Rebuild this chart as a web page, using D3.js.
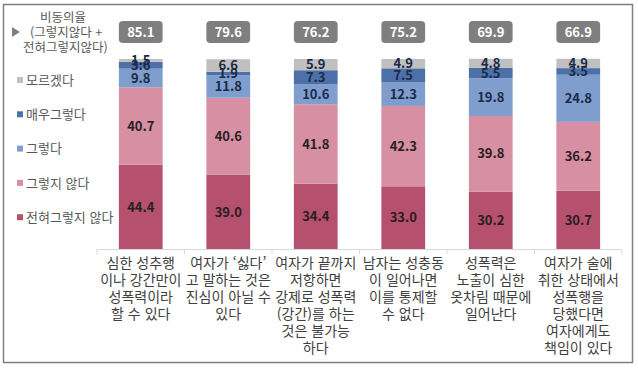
<!DOCTYPE html>
<html lang="ko">
<head>
  <meta charset="utf-8" />
  <title>성폭력 통념 비동의율</title>
  <script src="https://d3js.org/d3.v7.min.js"></script>
  <style>
    body { margin: 0; background: #fff; }
    svg { display: block; font-family: "Noto Sans CJK KR", "Noto Sans", sans-serif; }
  </style>
</head>
<body>
<svg id="chart" width="638" height="368"></svg>
<script>
  // 항목 (줄바꿈 그대로)
  const categories = [
    ["심한 성추행", "이나 강간만이", "성폭력이라", "할 수 있다"],
    ["여자가 ‘싫다’", "고 말하는 것은", "진심이 아닐 수", "있다"],
    ["여자가 끝까지", "저항하면", "강제로 성폭력", "(강간)를 하는", "것은 불가능", "하다"],
    ["남자는 성충동", "이 일어나면", "이를 통제할", "수 없다"],
    ["성폭력은", "노출이 심한", "옷차림 때문에", "일어난다"],
    ["여자가 술에", "취한 상태에서", "성폭행을", "당했다면", "여자에게도", "책임이 있다"]
  ];

  // 아래에서 위로 쌓는 순서
  const seriesNames = ["전혀그렇지 않다", "그렇지 않다", "그렇다", "매우그렇다", "모르겠다"];
  const stronglyDisagree = [44.4, 39.0, 34.4, 33.0, 30.2, 30.7];
  const disagree         = [40.7, 40.6, 41.8, 42.3, 39.8, 36.2];
  const agree            = [9.8, 11.8, 10.6, 12.3, 19.8, 24.8];
  const stronglyAgree    = [3.6, 1.9, 7.3, 7.5, 5.5, 3.5];
  const dontKnow         = [1.5, 6.6, 5.9, 4.9, 4.8, 4.9];
  const disagreeRate     = [85.1, 79.6, 76.2, 75.2, 69.9, 66.9];

  const colors = ["#b5506f", "#d68fa3", "#7f9ecd", "#4d70a8", "#c0c0c0"];

  const svg = d3.select("#chart");
  const W = 638, H = 368;

  // 바깥 테두리
  svg.append("rect")
    .attr("x", 3.5).attr("y", 4.5)
    .attr("width", 629).attr("height", 358)
    .attr("fill", "none").attr("stroke", "#808080").attr("stroke-width", 1.5);

  const idx = d3.range(categories.length);
  const x = d3.scaleBand().domain(idx).range([97, 622]).paddingInner(0.5).paddingOuter(0.25);
  const y = d3.scaleLinear().domain([0, 100]).range([249, 59]);

  const table = idx.map(i => ({
    i,
    [seriesNames[0]]: stronglyDisagree[i],
    [seriesNames[1]]: disagree[i],
    [seriesNames[2]]: agree[i],
    [seriesNames[3]]: stronglyAgree[i],
    [seriesNames[4]]: dontKnow[i]
  }));
  const stacked = d3.stack().keys(seriesNames)(table);

  const layers = svg.append("g").selectAll("g")
    .data(stacked).join("g")
    .attr("fill", (d, k) => colors[k]);

  layers.selectAll("rect")
    .data(d => d).join("rect")
    .attr("x", d => x(d.data.i))
    .attr("width", x.bandwidth())
    .attr("y", d => y(d[1]))
    .attr("height", d => y(d[0]) - y(d[1]));

  // 값 레이블
  const labels = svg.append("g")
    .attr("text-anchor", "middle")
    .attr("font-size", 13)
    .attr("font-weight", "bold");
  stacked.forEach((layer, k) => {
    labels.selectAll(null)
      .data(layer).join("text")
      .attr("x", d => x(d.data.i) + x.bandwidth() / 2)
      .attr("y", d => (y(d[0]) + y(d[1])) / 2)
      .attr("dy", "0.36em")
      .attr("fill", k < 2 ? "#2a1e24" : "#1b2a48")
      .text(d => (d[1] - d[0]).toFixed(1));
  });

  // 비동의율 배지
  const badge = svg.append("g").selectAll("g")
    .data(idx).join("g")
    .attr("transform", i => `translate(${x(i)},21)`);
  badge.append("rect")
    .attr("width", x.bandwidth()).attr("height", 22)
    .attr("rx", 4).attr("fill", "#7f7f7f");
  badge.append("text")
    .attr("x", x.bandwidth() / 2).attr("y", 11).attr("dy", "0.36em")
    .attr("text-anchor", "middle").attr("fill", "#fff")
    .attr("font-size", 13).attr("font-weight", "bold")
    .text(i => disagreeRate[i].toFixed(1));

  // x축
  const axis = svg.append("g").attr("transform", "translate(0,249.5)");
  axis.append("line").attr("x1", 97).attr("x2", 622).attr("stroke", "#d9d9d9");
  axis.selectAll("line.tick")
    .data(d3.range(categories.length + 1)).join("line")
    .attr("class", "tick")
    .attr("x1", k => 97 + k * x.step()).attr("x2", k => 97 + k * x.step())
    .attr("y1", 0).attr("y2", 5).attr("stroke", "#d9d9d9");

  const catText = svg.append("g").selectAll("text")
    .data(idx).join("text")
    .attr("text-anchor", "middle")
    .attr("font-size", 14)
    .attr("fill", "#404040");
  catText.selectAll("tspan")
    .data(i => categories[i].map(line => ({ i, line })))
    .join("tspan")
    .attr("x", d => x(d.i) + x.bandwidth() / 2)
    .attr("y", (d, j) => 263 + j * 17)
    .attr("dy", "0.36em")
    .text(d => d.line);

  // 범례
  const legTitle = svg.append("g").attr("fill", "#595959").attr("font-size", 12.5);
  legTitle.append("text").attr("x", 63).attr("y", 17).attr("dy", "0.36em")
    .attr("text-anchor", "middle").text("비동의율");
  legTitle.append("text").attr("x", 30).attr("y", 32).attr("dy", "0.36em")
    .text("(그렇지않다 +");
  legTitle.append("text").attr("x", 23).attr("y", 47).attr("dy", "0.36em")
    .text("전혀그렇지않다)");
  legTitle.append("path").attr("d", "M12,27 L20,32 L12,37 Z").attr("fill", "#7f7f7f");

  const legendOrder = [4, 3, 2, 1, 0];
  const leg = svg.append("g").selectAll("g")
    .data(legendOrder).join("g")
    .attr("transform", (k, j) => `translate(17,${80 + j * 34.3})`);
  leg.append("rect").attr("y", -3).attr("width", 6).attr("height", 6)
    .attr("fill", k => colors[k]);
  leg.append("text").attr("x", 9).attr("dy", "0.36em")
    .attr("font-size", 13).attr("fill", "#595959")
    .text(k => seriesNames[k]);
</script>
</body>
</html>
